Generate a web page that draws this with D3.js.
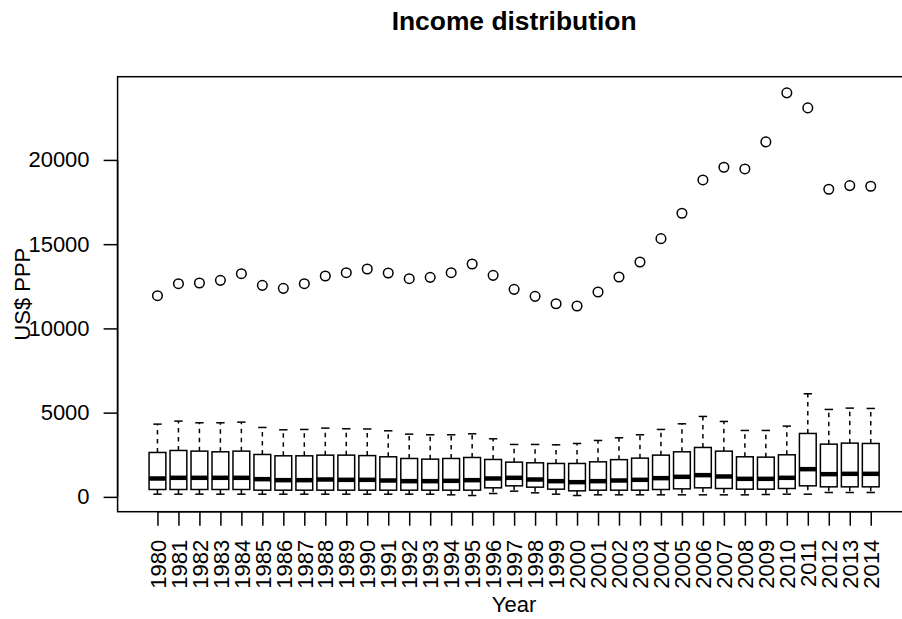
<!DOCTYPE html>
<html>
<head>
<meta charset="utf-8">
<script src="https://cdn.jsdelivr.net/npm/d3@7"></script>
<style>
  html, body { margin: 0; padding: 0; background: #fff; }
  svg { display: block; font-family: "Liberation Sans", Arial, Helvetica, sans-serif; }
</style>
</head>
<body>
<svg id="chart" width="902" height="619"></svg>
<script>
// Yearly income distribution (US$ PPP): whiskers, quartiles, median and one outlier per year
const years = d3.range(1980, 2015).map(String);

const whiskerLow = [160, 160, 160, 160, 160, 160, 160, 160, 160, 160, 160, 160, 160, 160, 121, 81,
  200, 339, 240, 160, 81, 121, 121, 121, 121, 121, 121, 121, 121, 141, 160, 160, 260, 260, 260];

const q1 = [438, 438, 438, 438, 438, 398, 398, 398, 398, 398, 398, 398, 398, 398, 398, 398,
  537, 655, 576, 457, 358, 398, 398, 398, 438, 477, 537, 497, 457, 457, 497, 655, 596, 596, 596];

const median = [1091, 1131, 1131, 1131, 1131, 1051, 992, 992, 1032, 1012, 1012, 972, 933, 933, 952, 992,
  1091, 1131, 1032, 933, 873, 933, 972, 1012, 1111, 1190, 1289, 1210, 1071, 1071, 1131, 1645, 1348, 1368, 1368];

const q3 = [2635, 2754, 2715, 2675, 2715, 2517, 2437, 2437, 2477, 2477, 2450, 2378, 2279, 2239, 2279, 2338,
  2220, 2061, 2022, 1982, 1982, 2081, 2210, 2299, 2477, 2675, 2932, 2715, 2378, 2358, 2497, 3764, 3130, 3190, 3170];

const whiskerHigh = [4318, 4497, 4398, 4398, 4437, 4120, 3982, 4002, 4081, 4041, 4030, 3922, 3724, 3685, 3685, 3744,
  3447, 3111, 3111, 3091, 3170, 3348, 3506, 3685, 4002, 4338, 4774, 4477, 3942, 3942, 4200, 6120, 5190, 5269, 5249];

const outlier = [11941, 12654, 12694, 12852, 13248, 12555, 12377, 12654, 13110, 13307, 13525, 13288, 12951, 13030, 13307, 13822,
  13149, 12318, 11902, 11466, 11328, 12159, 13050, 13941, 15327, 16832, 18812, 19565, 19465, 21069, 23980, 23089, 18258, 18475, 18436];

const yTicks = [0, 5000, 10000, 15000, 20000];

const titleText = "Income distribution";
const xTitle = "Year";
const yTitle = "US$ PPP";

// Plot frame (the right edge runs past the canvas)
const frame = { left: 117.6, top: 76.7, right: 910.6, bottom: 511.7 };
const n = years.length;

const x = d3.scaleLinear().domain([0.5 - 0.04 * n, n + 0.5 + 0.04 * n]).range([frame.left, frame.right]);
const y = d3.scaleLinear().domain([-880, 24940]).range([frame.bottom, frame.top]);

const step = x(2) - x(1);
const boxW = 0.8 * step;
const stapleW = 0.5 * boxW;

const svg = d3.select("#chart");
const rows = years.map((yr, i) => ({
  yr, i: i + 1,
  lo: whiskerLow[i], q1: q1[i], med: median[i], q3: q3[i], hi: whiskerHigh[i], out: outlier[i]
}));

const g = svg.append("g");
const box = g.selectAll("g.box").data(rows).join("g").attr("class", "box");

// dashed whiskers
box.append("line")
  .attr("x1", d => x(d.i)).attr("x2", d => x(d.i))
  .attr("y1", d => y(d.q3)).attr("y2", d => y(d.hi))
  .attr("stroke", "#000").attr("stroke-width", 1.5).attr("stroke-dasharray", "4.5,4.5");
box.append("line")
  .attr("x1", d => x(d.i)).attr("x2", d => x(d.i))
  .attr("y1", d => y(d.q1)).attr("y2", d => y(d.lo))
  .attr("stroke", "#000").attr("stroke-width", 1.5).attr("stroke-dasharray", "4.5,4.5");
// staples
box.append("line")
  .attr("x1", d => x(d.i) - stapleW / 2).attr("x2", d => x(d.i) + stapleW / 2)
  .attr("y1", d => y(d.hi)).attr("y2", d => y(d.hi))
  .attr("stroke", "#000").attr("stroke-width", 1.5);
box.append("line")
  .attr("x1", d => x(d.i) - stapleW / 2).attr("x2", d => x(d.i) + stapleW / 2)
  .attr("y1", d => y(d.lo)).attr("y2", d => y(d.lo))
  .attr("stroke", "#000").attr("stroke-width", 1.5);
// boxes
box.append("rect")
  .attr("x", d => x(d.i) - boxW / 2).attr("width", boxW)
  .attr("y", d => y(d.q3)).attr("height", d => y(d.q1) - y(d.q3))
  .attr("fill", "#fff").attr("stroke", "#000").attr("stroke-width", 1.5);
// medians
box.append("line")
  .attr("x1", d => x(d.i) - boxW / 2).attr("x2", d => x(d.i) + boxW / 2)
  .attr("y1", d => y(d.med)).attr("y2", d => y(d.med))
  .attr("stroke", "#000").attr("stroke-width", 4.5);
// outliers
box.append("circle")
  .attr("cx", d => x(d.i)).attr("cy", d => y(d.out)).attr("r", 4.8)
  .attr("fill", "none").attr("stroke", "#000").attr("stroke-width", 1.5);

// frame
svg.append("rect")
  .attr("x", frame.left).attr("y", frame.top)
  .attr("width", frame.right - frame.left).attr("height", frame.bottom - frame.top)
  .attr("fill", "none").attr("stroke", "#000").attr("stroke-width", 1.5);

// y axis
const yAxis = d3.axisLeft(y).tickValues(yTicks).tickSize(14).tickPadding(14).tickFormat(d3.format("d"));
const ya = svg.append("g").attr("transform", `translate(${frame.left},0)`).call(yAxis);
ya.select(".domain").attr("d", `M0,${y(yTicks[0])}V${y(yTicks[yTicks.length - 1])}`).attr("stroke-width", 1.5);
ya.selectAll(".tick line").attr("stroke-width", 1.5);
ya.selectAll(".tick text").attr("font-size", 22).attr("fill", "#000").attr("font-family", "Liberation Sans, Arial, sans-serif");

// x axis
const xAxis = d3.axisBottom(x).tickValues(d3.range(1, n + 1)).tickSize(14).tickFormat(d => years[d - 1]);
const xa = svg.append("g").attr("transform", `translate(0,${frame.bottom})`).call(xAxis);
xa.select(".domain").attr("d", `M${x(1)},0H${x(n)}`).attr("stroke-width", 1.5);
xa.selectAll(".tick line").attr("stroke-width", 1.5);
xa.selectAll(".tick text")
  .attr("font-size", 22).attr("fill", "#000").attr("font-family", "Liberation Sans, Arial, sans-serif")
  .attr("transform", "rotate(-90)")
  .attr("text-anchor", "end")
  .attr("x", -28).attr("y", 0).attr("dy", "0.35em");

// titles
svg.append("text")
  .attr("x", (frame.left + frame.right) / 2).attr("y", 30)
  .attr("text-anchor", "middle").attr("font-size", 26.4).attr("font-weight", "bold")
  .text(titleText);
svg.append("text")
  .attr("x", (frame.left + frame.right) / 2).attr("y", 612)
  .attr("text-anchor", "middle").attr("font-size", 22)
  .text(xTitle);
svg.append("text")
  .attr("transform", `translate(30,${(frame.top + frame.bottom) / 2}) rotate(-90)`)
  .attr("text-anchor", "middle").attr("font-size", 22)
  .text(yTitle);
</script>
</body>
</html>
